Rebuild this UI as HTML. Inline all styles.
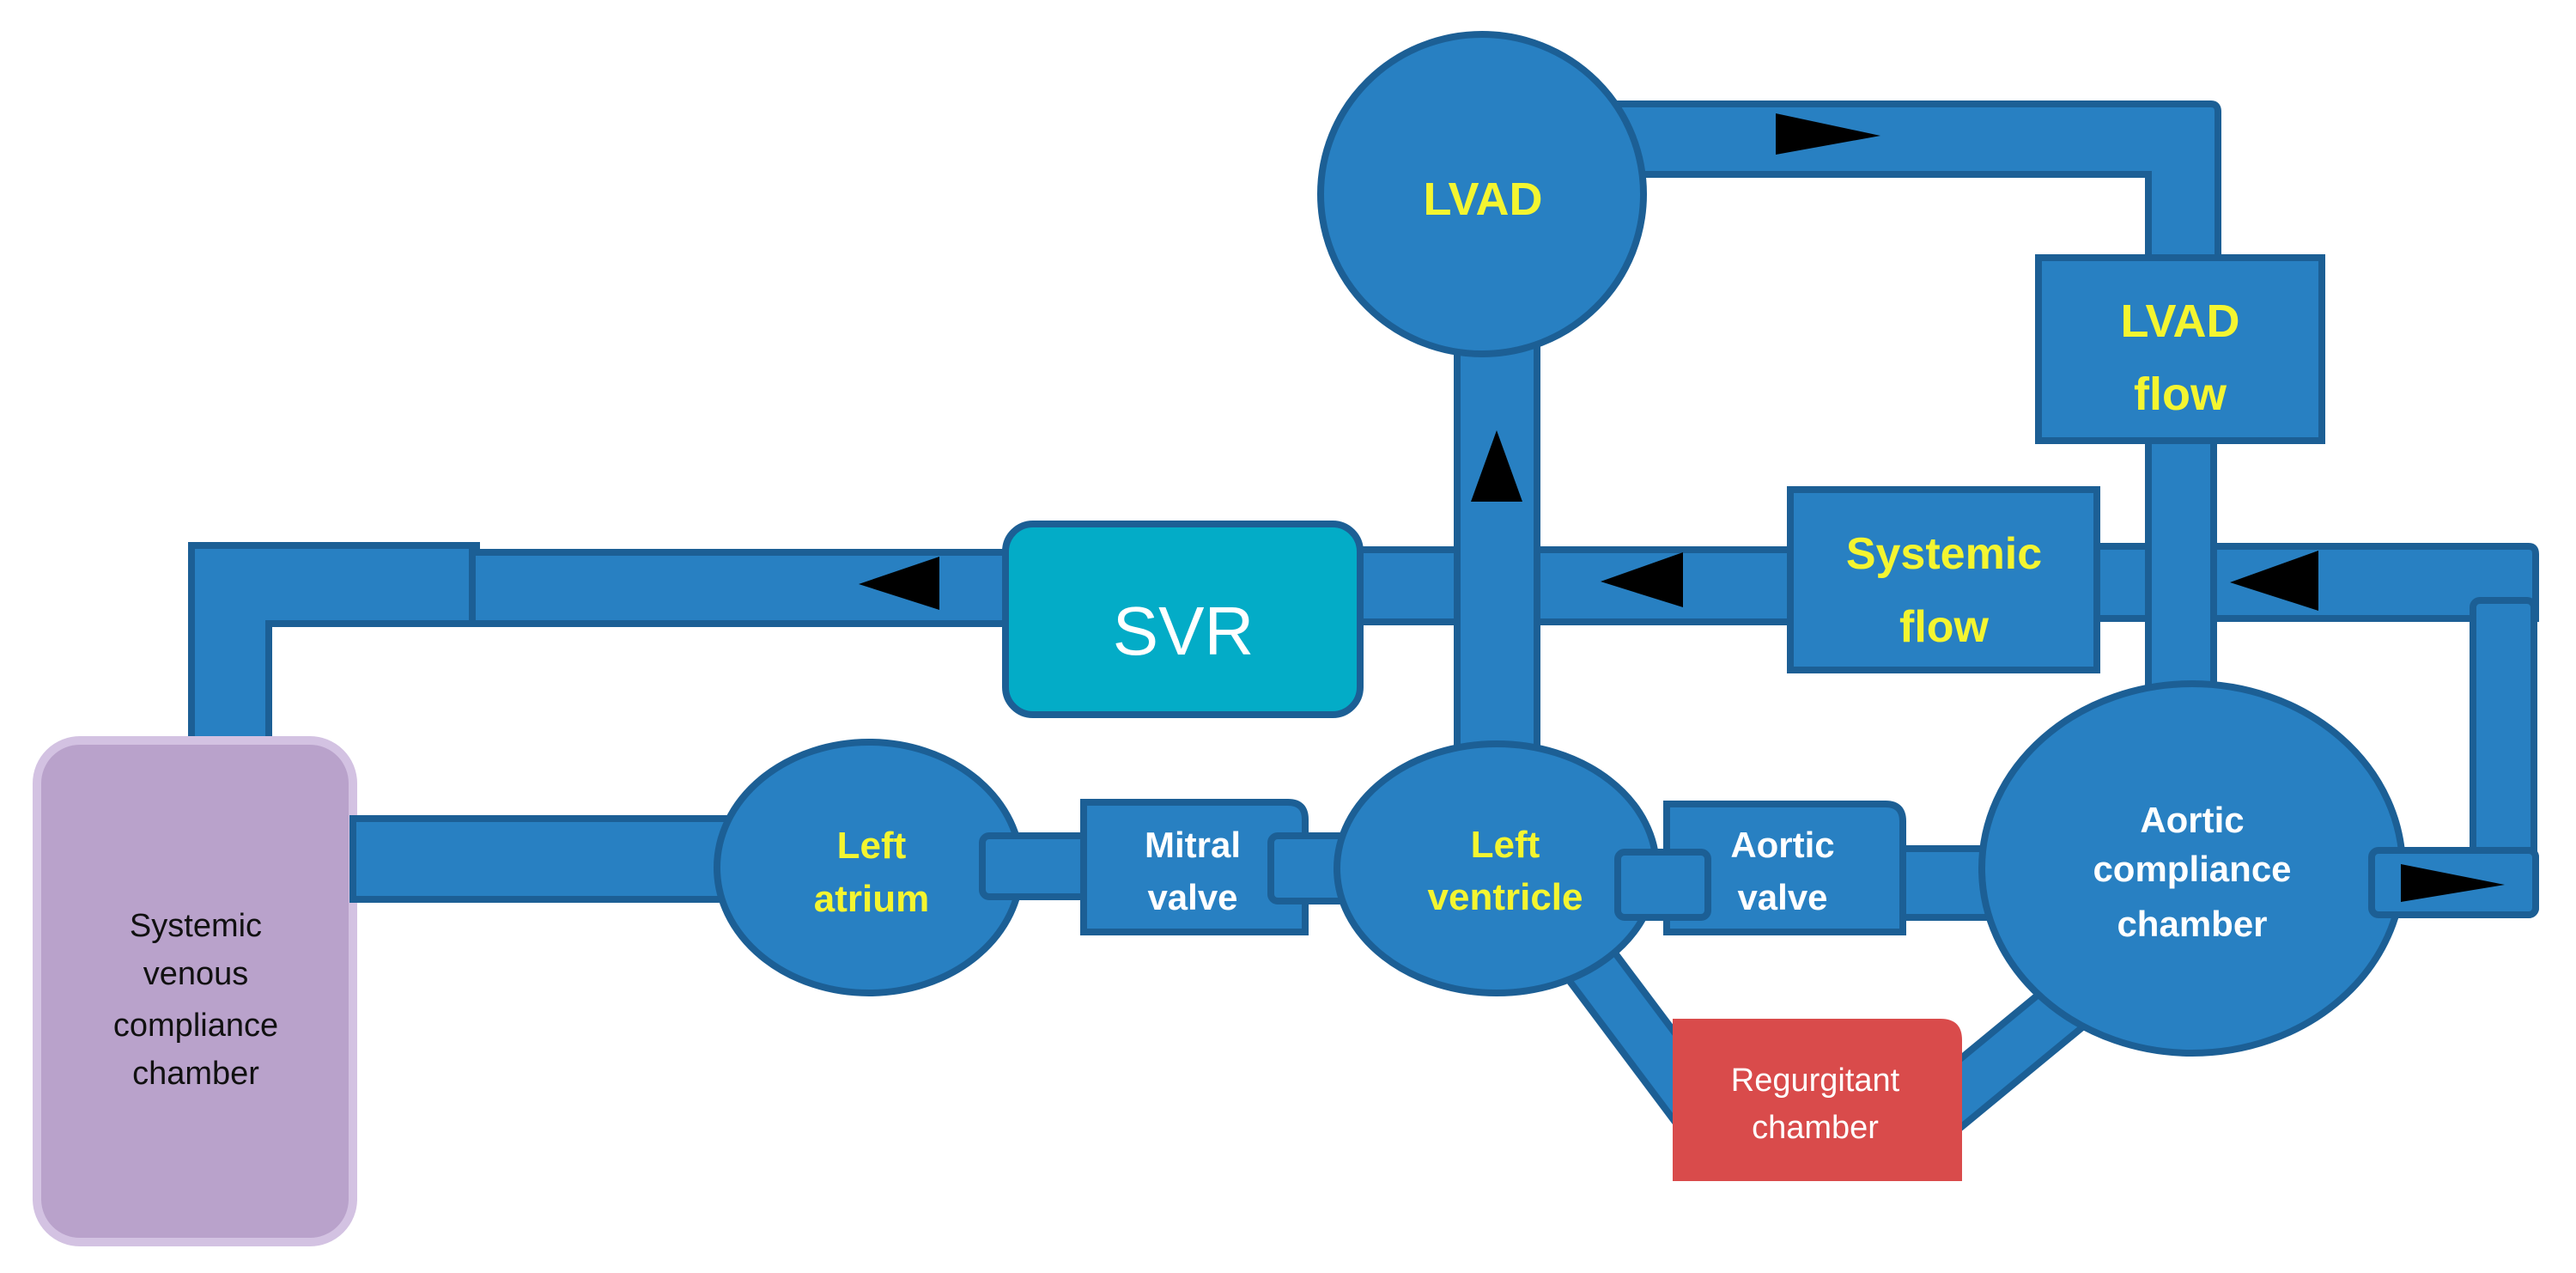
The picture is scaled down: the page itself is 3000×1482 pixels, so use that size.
<!DOCTYPE html>
<html><head><meta charset="utf-8"><style>
html,body{margin:0;padding:0;background:#fff;}
svg{display:block;}
text{font-family:"Liberation Sans",sans-serif;text-anchor:middle;font-weight:bold;}
.p{fill:#2880c2;stroke:#1c5f95;stroke-width:8;}
.y{fill:#f4f530;}
.w{fill:#fff;}
</style></head><body>
<svg width="3000" height="1482" viewBox="0 0 3000 1482" xmlns="http://www.w3.org/2000/svg">
<!-- top-left pipe -->
<path class="p" d="M223 869 V635 H555 V726 H313 V869 Z"/>
<rect class="p" x="550" y="643" width="630" height="83"/>
<!-- venous chamber -->
<rect x="43" y="862" width="368" height="584" rx="50" fill="#b9a2cb" stroke="#d3c2e2" stroke-width="10"/>
<text y="1090" font-size="38" font-weight="normal" fill="#111" style="font-weight:normal"><tspan x="228">Systemic</tspan><tspan x="228" dy="56">venous</tspan><tspan x="228" dy="60">compliance</tspan><tspan x="228" dy="56">chamber</tspan></text>
<!-- lower pipe venous to LA -->
<rect class="p" x="411" y="953" width="440" height="94"/>
<!-- main horizontal pipe -->
<rect class="p" x="1575" y="640" width="520" height="84"/>
<path class="p" d="M2440 636 H2945 Q2953 636 2953 645 V720 H2440 Z"/>
<!-- right vertical -->
<rect class="p" x="2880" y="699" width="71" height="300" rx="8"/>
<rect class="p" x="2762" y="990" width="191" height="75" rx="8"/>
<!-- LVAD vertical -->
<rect class="p" x="1697" y="400" width="93" height="480"/>
<!-- LVAD top pipe -->
<path class="p" d="M1880 121 H2575 Q2583 121 2583 130 V310 H2502 V203 H1880 Z"/>
<rect class="p" x="2502" y="505" width="76" height="300"/>
<!-- regurgitant pipes -->
<line x1="1850" y1="1120" x2="1985" y2="1300" stroke="#1c5f95" stroke-width="70"/>
<line x1="1850" y1="1120" x2="1985" y2="1300" stroke="#2880c2" stroke-width="54"/>
<line x1="2250" y1="1300" x2="2420" y2="1160" stroke="#1c5f95" stroke-width="70"/>
<line x1="2250" y1="1300" x2="2420" y2="1160" stroke="#2880c2" stroke-width="54"/>
<!-- aortic to chamber pipe -->
<rect class="p" x="2210" y="988" width="110" height="80"/>
<!-- LVAD circle -->
<ellipse class="p" cx="1726" cy="226" rx="188" ry="186"/>
<text x="1727" y="250" font-size="54" class="y">LVAD</text>
<!-- SVR -->
<rect x="1171" y="610" width="413" height="222" rx="32" fill="#03acc7" stroke="#1c5f95" stroke-width="8"/>
<text x="1378" y="762" font-size="80" class="w" style="font-weight:normal">SVR</text>
<!-- Systemic flow -->
<rect class="p" x="2085" y="570" width="357" height="210"/>
<text font-size="52" class="y"><tspan x="2264" y="662">Systemic</tspan><tspan x="2264" y="747">flow</tspan></text>
<!-- LVAD flow -->
<rect class="p" x="2374" y="300" width="330" height="213"/>
<text font-size="54" class="y"><tspan x="2539" y="392">LVAD</tspan><tspan x="2539" y="477">flow</tspan></text>
<!-- Left atrium -->
<ellipse class="p" cx="1012" cy="1010" rx="177" ry="146"/>
<rect class="p" x="1144" y="973" width="125" height="71" rx="8"/>
<text font-size="44" class="y"><tspan x="1015" y="999">Left</tspan><tspan x="1015" y="1061">atrium</tspan></text>
<!-- Mitral -->
<path class="p" d="M1262 934 H1500 Q1520 934 1520 954 V1085 H1262 Z"/>
<text font-size="42" class="w"><tspan x="1389" y="998">Mitral</tspan><tspan x="1389" y="1059">valve</tspan></text>
<rect class="p" x="1480" y="973" width="123" height="76" rx="8"/>
<!-- LV -->
<ellipse class="p" cx="1743" cy="1011" rx="186" ry="145"/>
<text font-size="44" class="y"><tspan x="1753" y="998">Left</tspan><tspan x="1753" y="1059">ventricle</tspan></text>
<!-- Aortic valve -->
<path class="p" d="M1941 936 H2196 Q2216 936 2216 956 V1085 H1941 Z"/>
<rect class="p" x="1884" y="992" width="105" height="76" rx="8"/>
<text font-size="42" class="w"><tspan x="2076" y="998">Aortic</tspan><tspan x="2076" y="1059">valve</tspan></text>
<!-- Aortic compliance -->
<ellipse class="p" cx="2553" cy="1011" rx="245" ry="215"/>
<rect class="p" x="2762" y="990" width="191" height="75" rx="8"/>
<text font-size="42" class="w"><tspan x="2553" y="969">Aortic</tspan><tspan x="2553" y="1026">compliance</tspan><tspan x="2553" y="1090">chamber</tspan></text>
<!-- Regurgitant -->
<path d="M1948 1186 H2260 Q2285 1186 2285 1211 V1375 H1948 Z" fill="#d94b4b"/>
<text font-size="38" class="w" style="font-weight:normal"><tspan x="2114" y="1270">Regurgitant</tspan><tspan x="2114" y="1325">chamber</tspan></text>
<!-- arrows -->
<g fill="#000">
<path d="M1094 648 L1094 710 L1000 680 Z"/>
<path d="M1960 643 L1960 707 L1864 677 Z"/>
<path d="M2700 641 L2700 711 L2597 678 Z"/>
<path d="M1713 584 L1773 584 L1743 501 Z"/>
<path d="M2068 132 L2068 180 L2190 158 Z"/>
<path d="M2796 1006 L2796 1050 L2917 1030 Z"/>
</g>
</svg>
</body></html>
